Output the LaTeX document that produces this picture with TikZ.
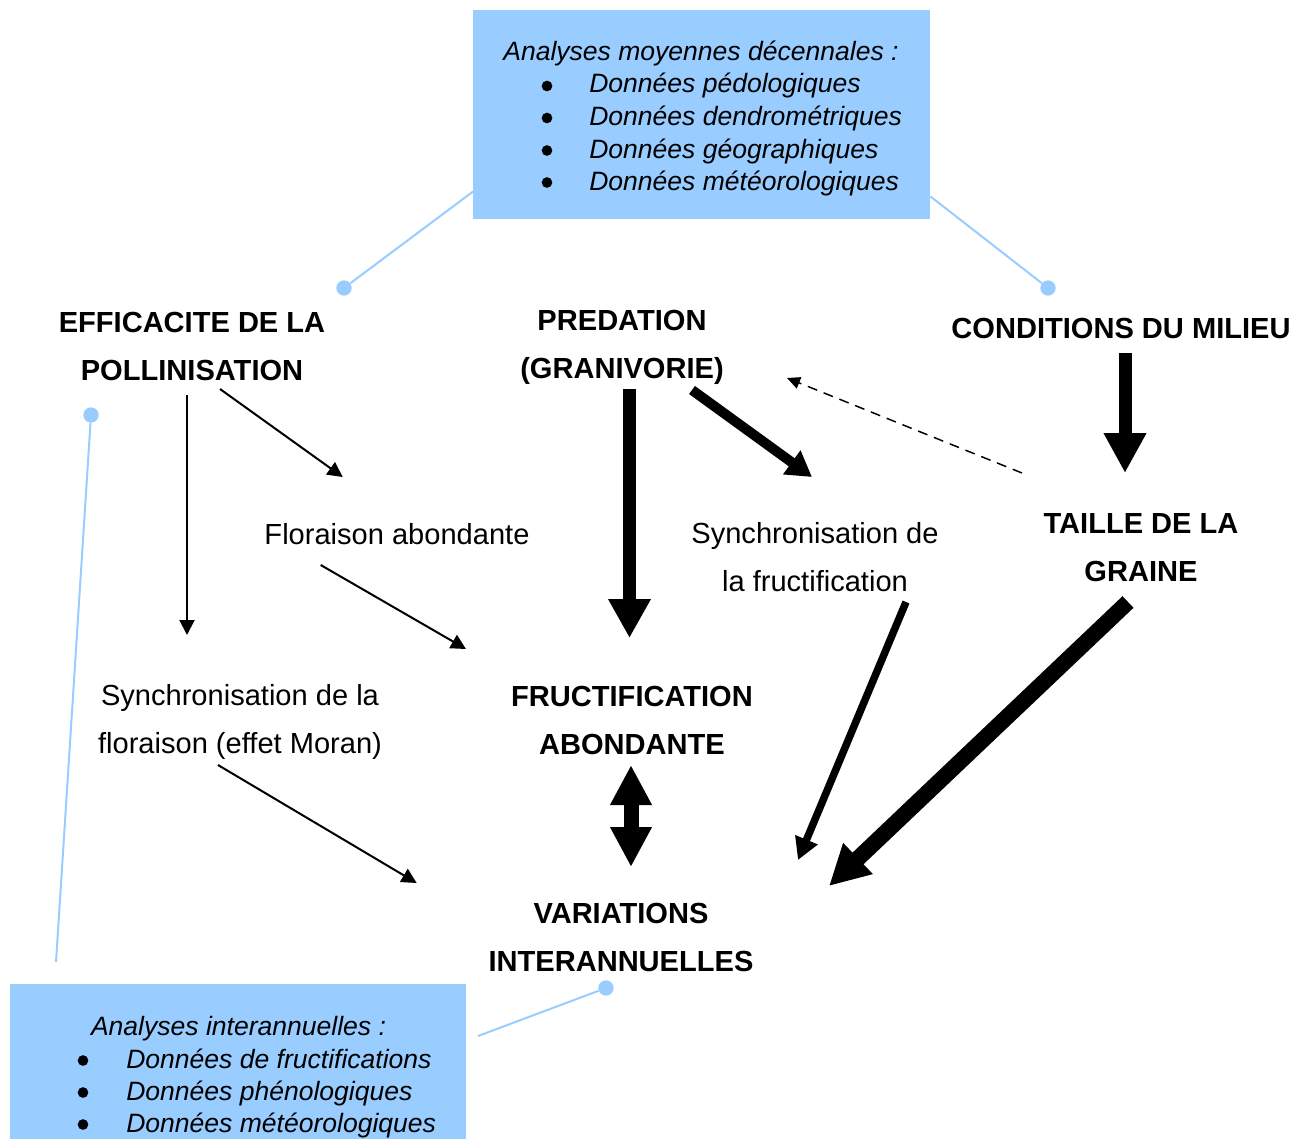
\documentclass[tikz,border=0pt]{standalone}
\usepackage{fontspec}
\setmainfont{Liberation Sans}
\usetikzlibrary{arrows.meta}
\definecolor{boxblue}{RGB}{153,204,255}
\begin{document}
\begin{tikzpicture}[x=0.75pt,y=-0.75pt,
  lbl/.style={font=\fontsize{21.8}{36}\selectfont\bfseries, align=center, inner sep=0pt},
  txt/.style={font=\fontsize{21.8}{36}\selectfont, align=center, inner sep=0pt},
  itl/.style={font=\fontsize{19.9}{24.4}\selectfont\itshape, inner sep=0pt, anchor=base west},
  bul/.style={circle, fill=black, inner sep=0pt, minimum size=8pt},
  infobox/.style={rectangle, fill=boxblue, draw=none, inner sep=0pt, anchor=north west},
  link/.style={draw=boxblue, line width=1.5pt},
  dotnode/.style={circle, fill=boxblue, inner sep=0pt, minimum size=11.5pt},
  thinarr/.style={line width=1.5pt, -{Triangle[length=11.25pt,width=11.25pt]}},
  dasharr/.style={line width=1.1pt, dash pattern=on 7.5pt off 5.25pt, -{Triangle[length=9.75pt,width=9pt]}},
  predarr/.style={line width=9.75pt, -{Triangle[length=29.25pt,width=30pt]}},
  syncarr/.style={line width=7.5pt, -{Triangle[length=18.75pt,width=21pt]}},
  condarr/.style={line width=9.75pt, -{Triangle[length=30pt,width=30pt]}},
  fructarr/.style={line width=5.6pt, -{Triangle[length=16.5pt,width=17.25pt]}},
  grainarr/.style={line width=12pt, -{Triangle[length=30pt,width=30pt]}},
  dblarr/.style={line width=11.25pt, {Triangle[length=30pt,width=29.25pt]}-{Triangle[length=30pt,width=29.25pt]}}
]
\useasboundingbox (0,0) rectangle (1307,1139);
\clip (0,0) rectangle (1307,1139);

% info boxes
\node[infobox, minimum width=342.75pt, minimum height=156.75pt] (topbox) at (473,10) {};
\node[infobox, minimum width=342pt, minimum height=130pt] (botbox) at (10,984) {};

% top box text
\node[itl, anchor=base] (t0) at (701,60) {Analyses moyennes décennales :};
\node[bul] (tb1) at (547,86) {};
\node[bul] (tb2) at (547,118) {};
\node[bul] (tb3) at (547,150.5) {};
\node[bul] (tb4) at (547,182.5) {};
\node[itl] (t1) at (589,92.7) {Données pédologiques};
\node[itl] (t2) at (589,125) {Données dendrométriques};
\node[itl] (t3) at (589,158) {Données géographiques};
\node[itl] (t4) at (589,190) {Données météorologiques};

% bottom box text
\node[itl, anchor=base] (b0) at (238.5,1035) {Analyses interannuelles :};
\node[bul] (bb1) at (83,1060.5) {};
\node[bul] (bb2) at (83,1092.5) {};
\node[bul] (bb3) at (83,1124.5) {};
\node[itl] (b1) at (126,1068.3) {Données de fructifications};
\node[itl] (b2) at (126,1100) {Données phénologiques};
\node[itl] (b3) at (126,1132.3) {Données météorologiques};

% dots and links
\node[dotnode] (d1) at (344,288) {};
\node[dotnode] (d2) at (1048,288) {};
\node[dotnode] (d3) at (91,415) {};
\node[dotnode] (d4) at (606,988) {};
\coordinate (e3) at (56,962);
\coordinate (e4) at (478,1036);
\draw[link] ([yshift=21pt]topbox.south west) -- (d1);
\draw[link] ([yshift=17.25pt]topbox.south east) -- (d2);
\draw[link] (d3) -- (e3);
\draw[link] (d4) -- (e4);

% labels
\node[lbl] (eff) at (192,346) {EFFICACITE DE LA\\POLLINISATION};
\node[lbl] (pred) at (622,347) {PREDATION\\(GRANIVORIE)};
\node[lbl] (cond) at (1121,328) {CONDITIONS DU MILIEU};
\node[txt] (flor) at (397,534) {Floraison abondante};
\node[txt] (syncf) at (815,557) {Synchronisation de\\la fructification};
\node[lbl] (taille) at (1141,548) {TAILLE DE LA\\GRAINE};
\node[txt] (syncfl) at (240,721.5) {Synchronisation de la\\floraison (effet Moran)};
\node[lbl] (fruct) at (632,720) {FRUCTIFICATION\\ABONDANTE};
\node[lbl] (var) at (621,937) {VARIATIONS\\INTERANNUELLES};

% arrow end points
\coordinate (a1s) at (187,395);   \coordinate (a1e) at (187,635);
\coordinate (a2s) at (220,389);   \coordinate (a2e) at (342.7,477);
\coordinate (a3s) at (320.7,565); \coordinate (a3e) at (466,649);
\coordinate (a4s) at (218,765);   \coordinate (a4e) at (416.7,883);
\coordinate (a5s) at (629.5,389); \coordinate (a5e) at (629.5,638);
\coordinate (a6s) at (692,390);   \coordinate (a6e) at (812,477);
\coordinate (a7s) at (1022,473);  \coordinate (a7e) at (787,378);
\coordinate (a8s) at (1125,353);  \coordinate (a8e) at (1125,473);
\coordinate (a9s) at (906,602);   \coordinate (a9e) at (798,860);
\coordinate (a10s) at (1128,602); \coordinate (a10e) at (829,886);
\coordinate (a11s) at (631,765);  \coordinate (a11e) at (631,867);

\draw[thinarr] (a1s) -- (a1e);
\draw[thinarr] (a2s) -- (a2e);
\draw[thinarr] (a3s) -- (a3e);
\draw[thinarr] (a4s) -- (a4e);
\draw[predarr] (a5s) -- (a5e);
\draw[syncarr] (a6s) -- (a6e);
\draw[dasharr] (a7s) -- (a7e);
\draw[condarr] (a8s) -- (a8e);
\draw[fructarr] (a9s) -- (a9e);
\draw[grainarr] (a10s) -- (a10e);
\draw[dblarr] (a11s) -- (a11e);
\end{tikzpicture}
\end{document}
